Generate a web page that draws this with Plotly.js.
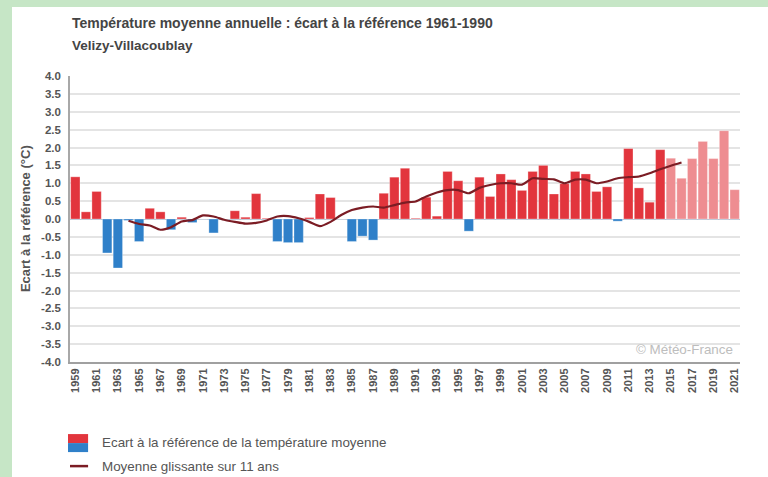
<!DOCTYPE html>
<html>
<head>
<meta charset="utf-8">
<script src="https://cdn.plot.ly/plotly-3.0.1.min.js"></script>
<style>
html,body{margin:0;padding:0;background:#c6e6c6;width:768px;height:477px;overflow:hidden;}
#panel{position:absolute;left:12px;top:7px;width:756px;height:470px;background:#fff;}
#chart{width:756px;height:470px;}
</style>
</head>
<body>
<div id="panel"><div id="chart"></div></div>
<script>
const years = [];
for (let y = 1959; y <= 2021; y++) years.push(y);

const anomalies = [
  1.18, 0.20, 0.77, -0.95, -1.37, -0.04, -0.63, 0.30, 0.20, -0.30,
  0.05, -0.10, 0.00, -0.39, 0.00, 0.23, 0.05, 0.71, 0.02, -0.63,
  -0.66, -0.66, 0.04, 0.70, 0.60, 0.00, -0.63, -0.48, -0.59, 0.72,
  1.17, 1.42, 0.02, 0.61, 0.08, 1.33, 1.07, -0.34, 1.17, 0.63,
  1.26, 1.10, 0.80, 1.33, 1.50, 0.70, 0.99, 1.33, 1.26, 0.77,
  0.90, -0.06, 1.97, 0.87, 0.47, 1.94, 1.70, 1.14, 1.69, 2.17,
  1.69, 2.47, 0.82
];

const maYears = [];
for (let y = 1964; y <= 2016; y++) maYears.push(y);
const movingAvg = [
  -0.05, -0.14, -0.18, -0.30, -0.23, -0.07, -0.03, 0.10, 0.07, -0.02,
  -0.08, -0.13, -0.11, -0.04, 0.07, 0.08, 0.02, -0.08, -0.20, -0.08,
  0.11, 0.25, 0.32, 0.35, 0.32, 0.39, 0.46, 0.49, 0.63, 0.74,
  0.81, 0.81, 0.72, 0.87, 0.95, 1.00, 1.00, 0.96, 1.14, 1.12,
  1.11, 1.00, 1.10, 1.10, 1.00, 1.05, 1.14, 1.17, 1.19, 1.28,
  1.39, 1.49, 1.58
];

const tickYears = years.filter(y => (y - 1959) % 2 === 0);
const yTicks = [];
for (let v = -4; v <= 4.001; v += 0.5) yTicks.push(Math.round(v * 10) / 10);

const RED = '#e2353d', PINK = '#ee8d91', BLUE = '#2f80c9', LINE = '#7b1c24';
const barColors = anomalies.map((v, i) => v < 0 ? BLUE : (years[i] >= 2015 ? PINK : RED));

const font = 'Liberation Sans, Arial, sans-serif';

const traces = [
  {
    type: 'bar', x: years, y: anomalies,
    marker: {color: barColors, line: {color: 'rgba(255,255,255,0.6)', width: 0.5}},
    hoverinfo: 'x+y', showlegend: false
  },
  {
    type: 'scatter', mode: 'lines', x: maYears, y: movingAvg,
    line: {color: LINE, width: 2.2, shape: 'spline', smoothing: 0.6},
    hoverinfo: 'x+y', showlegend: false
  }
];

const layout = {
  width: 756, height: 470,
  margin: {l: 58, r: 28, t: 69, b: 115},
  paper_bgcolor: '#ffffff', plot_bgcolor: '#ffffff',
  bargap: 0.12,
  font: {family: font, color: '#555'},
  xaxis: {
    range: [1958.5, 2021.5],
    tickmode: 'array', tickvals: tickYears, ticktext: tickYears.map(String),
    tickangle: -90,
    tickfont: {size: 11, color: '#555', weight: 'bold', family: font},
    showgrid: false, zeroline: false,
    showline: true, linecolor: '#a0a0a0', linewidth: 2,
    ticks: '', fixedrange: true
  },
  yaxis: {
    range: [-4, 4],
    tickmode: 'array', tickvals: yTicks, ticktext: yTicks.map(v => v.toFixed(1)),
    tickfont: {size: 11.5, color: '#555', weight: 'bold', family: font},
    showgrid: true, gridcolor: '#e4e4e4', gridwidth: 1.5,
    zeroline: true, zerolinecolor: '#b8c4d4', zerolinewidth: 1,
    showline: true, linecolor: '#a8a8a8', linewidth: 1.5,
    ticks: '', ticklabelstandoff: 5, fixedrange: true
  },
  shapes: [
    {type: 'rect', xref: 'paper', yref: 'paper', x0: -0.003, x1: 0.027, y0: -0.2835, y1: -0.252,
     fillcolor: RED, line: {width: 0}},
    {type: 'rect', xref: 'paper', yref: 'paper', x0: -0.003, x1: 0.027, y0: -0.315, y1: -0.2835,
     fillcolor: BLUE, line: {width: 0}},
    {type: 'line', xref: 'paper', yref: 'paper', x0: 0.0, x1: 0.027, y0: -0.364, y1: -0.364,
     line: {color: LINE, width: 2.5}}
  ],
  annotations: [
    {text: 'Température moyenne annuelle : écart à la référence 1961-1990',
     xref: 'paper', yref: 'paper', x: 0.0, y: 1.185, xanchor: 'left', yanchor: 'middle',
     showarrow: false, font: {size: 14, color: '#444', weight: 'bold', family: font}},
    {text: 'Velizy-Villacoublay',
     xref: 'paper', yref: 'paper', x: 0.0, y: 1.108, xanchor: 'left', yanchor: 'middle',
     showarrow: false, font: {size: 13.5, color: '#444', weight: 'bold', family: font}},
    {text: 'Ecart à la référence (°C)', textangle: -90,
     xref: 'paper', yref: 'paper', x: -0.067, y: 0.5, xanchor: 'center', yanchor: 'middle',
     showarrow: false, font: {size: 13, color: '#555', weight: 'bold', family: font}},
    {text: '© Météo-France',
     xref: 'paper', yref: 'paper', x: 0.993, y: 0.042, xanchor: 'right', yanchor: 'middle',
     showarrow: false, font: {size: 13.4, color: '#bdbdbd', family: font}},
    {text: 'Ecart à la référence de la température moyenne',
     xref: 'paper', yref: 'paper', x: 0.045, y: -0.283, xanchor: 'left', yanchor: 'middle',
     showarrow: false, font: {size: 13.4, color: '#555', family: font}},
    {text: 'Moyenne glissante sur 11 ans',
     xref: 'paper', yref: 'paper', x: 0.045, y: -0.364, xanchor: 'left', yanchor: 'middle',
     showarrow: false, font: {size: 13.4, color: '#555', family: font}}
  ]
};

Plotly.newPlot('chart', traces, layout, {displayModeBar: false, responsive: false});
</script>
</body>
</html>
